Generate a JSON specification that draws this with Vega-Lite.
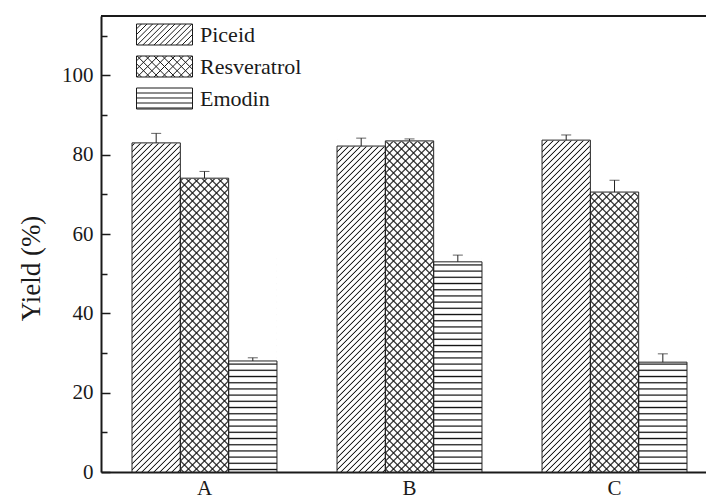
{
"$schema":"https://vega.github.io/schema/vega-lite/v6.json",
"width":605,"height":456,
"autosize":{"type":"none"},
"padding":{"left":101,"top":16,"right":0,"bottom":28},
"background":"white",
"config":{"view":{"stroke":null},"font":"Liberation Serif","legend":{"labelFont":"Liberation Serif"},"axis":{"labelFont":"Liberation Serif","titleFont":"Liberation Serif"}},
"data":{"values":[
{"group":"A","series":"Piceid","value":83.0,"hi":85.4},
{"group":"A","series":"Resveratrol","value":74.1,"hi":75.8},
{"group":"A","series":"Emodin","value":28.0,"hi":28.8},
{"group":"B","series":"Piceid","value":82.2,"hi":84.2},
{"group":"B","series":"Resveratrol","value":83.5,"hi":84.0},
{"group":"B","series":"Emodin","value":53.0,"hi":54.7},
{"group":"C","series":"Piceid","value":83.7,"hi":85.0},
{"group":"C","series":"Resveratrol","value":70.6,"hi":73.6},
{"group":"C","series":"Emodin","value":27.7,"hi":29.8}
]},
"layer":[
{"transform":[{"filter":"datum.series==='Piceid'"}],
"mark":{"type":"bar","stroke":null,"fill":{"gradient":"linear","x1":1,"y1":1,"x2":0.8622,"y2":-0.3012,"stops":[
{"offset":0.002,"color":"#fff"},{"offset":0.004,"color":"#111"},{"offset":0.006,"color":"#fff"},
{"offset":0.012,"color":"#fff"},{"offset":0.014,"color":"#111"},{"offset":0.016,"color":"#fff"},
{"offset":0.022,"color":"#fff"},{"offset":0.024,"color":"#111"},{"offset":0.026,"color":"#fff"},
{"offset":0.032,"color":"#fff"},{"offset":0.034,"color":"#111"},{"offset":0.036,"color":"#fff"},
{"offset":0.042,"color":"#fff"},{"offset":0.044,"color":"#111"},{"offset":0.046,"color":"#fff"},
{"offset":0.052,"color":"#fff"},{"offset":0.054,"color":"#111"},{"offset":0.056,"color":"#fff"},
{"offset":0.062,"color":"#fff"},{"offset":0.064,"color":"#111"},{"offset":0.066,"color":"#fff"},
{"offset":0.072,"color":"#fff"},{"offset":0.074,"color":"#111"},{"offset":0.076,"color":"#fff"},
{"offset":0.082,"color":"#fff"},{"offset":0.084,"color":"#111"},{"offset":0.086,"color":"#fff"},
{"offset":0.092,"color":"#fff"},{"offset":0.094,"color":"#111"},{"offset":0.096,"color":"#fff"},
{"offset":0.102,"color":"#fff"},{"offset":0.104,"color":"#111"},{"offset":0.106,"color":"#fff"},
{"offset":0.112,"color":"#fff"},{"offset":0.114,"color":"#111"},{"offset":0.116,"color":"#fff"},
{"offset":0.122,"color":"#fff"},{"offset":0.124,"color":"#111"},{"offset":0.126,"color":"#fff"},
{"offset":0.132,"color":"#fff"},{"offset":0.134,"color":"#111"},{"offset":0.136,"color":"#fff"},
{"offset":0.142,"color":"#fff"},{"offset":0.144,"color":"#111"},{"offset":0.146,"color":"#fff"},
{"offset":0.152,"color":"#fff"},{"offset":0.154,"color":"#111"},{"offset":0.156,"color":"#fff"},
{"offset":0.162,"color":"#fff"},{"offset":0.164,"color":"#111"},{"offset":0.166,"color":"#fff"},
{"offset":0.172,"color":"#fff"},{"offset":0.174,"color":"#111"},{"offset":0.176,"color":"#fff"},
{"offset":0.182,"color":"#fff"},{"offset":0.184,"color":"#111"},{"offset":0.186,"color":"#fff"},
{"offset":0.192,"color":"#fff"},{"offset":0.194,"color":"#111"},{"offset":0.196,"color":"#fff"},
{"offset":0.202,"color":"#fff"},{"offset":0.204,"color":"#111"},{"offset":0.206,"color":"#fff"},
{"offset":0.212,"color":"#fff"},{"offset":0.214,"color":"#111"},{"offset":0.216,"color":"#fff"},
{"offset":0.222,"color":"#fff"},{"offset":0.224,"color":"#111"},{"offset":0.226,"color":"#fff"},
{"offset":0.232,"color":"#fff"},{"offset":0.234,"color":"#111"},{"offset":0.236,"color":"#fff"},
{"offset":0.242,"color":"#fff"},{"offset":0.244,"color":"#111"},{"offset":0.246,"color":"#fff"},
{"offset":0.252,"color":"#fff"},{"offset":0.254,"color":"#111"},{"offset":0.256,"color":"#fff"},
{"offset":0.262,"color":"#fff"},{"offset":0.264,"color":"#111"},{"offset":0.266,"color":"#fff"},
{"offset":0.272,"color":"#fff"},{"offset":0.274,"color":"#111"},{"offset":0.276,"color":"#fff"},
{"offset":0.282,"color":"#fff"},{"offset":0.284,"color":"#111"},{"offset":0.286,"color":"#fff"},
{"offset":0.292,"color":"#fff"},{"offset":0.294,"color":"#111"},{"offset":0.296,"color":"#fff"},
{"offset":0.302,"color":"#fff"},{"offset":0.304,"color":"#111"},{"offset":0.306,"color":"#fff"},
{"offset":0.312,"color":"#fff"},{"offset":0.314,"color":"#111"},{"offset":0.316,"color":"#fff"},
{"offset":0.322,"color":"#fff"},{"offset":0.324,"color":"#111"},{"offset":0.326,"color":"#fff"},
{"offset":0.332,"color":"#fff"},{"offset":0.334,"color":"#111"},{"offset":0.336,"color":"#fff"},
{"offset":0.342,"color":"#fff"},{"offset":0.344,"color":"#111"},{"offset":0.346,"color":"#fff"},
{"offset":0.352,"color":"#fff"},{"offset":0.354,"color":"#111"},{"offset":0.356,"color":"#fff"},
{"offset":0.362,"color":"#fff"},{"offset":0.364,"color":"#111"},{"offset":0.366,"color":"#fff"},
{"offset":0.372,"color":"#fff"},{"offset":0.374,"color":"#111"},{"offset":0.376,"color":"#fff"},
{"offset":0.382,"color":"#fff"},{"offset":0.384,"color":"#111"},{"offset":0.386,"color":"#fff"},
{"offset":0.392,"color":"#fff"},{"offset":0.394,"color":"#111"},{"offset":0.396,"color":"#fff"},
{"offset":0.402,"color":"#fff"},{"offset":0.404,"color":"#111"},{"offset":0.406,"color":"#fff"},
{"offset":0.412,"color":"#fff"},{"offset":0.414,"color":"#111"},{"offset":0.416,"color":"#fff"},
{"offset":0.422,"color":"#fff"},{"offset":0.424,"color":"#111"},{"offset":0.426,"color":"#fff"},
{"offset":0.432,"color":"#fff"},{"offset":0.434,"color":"#111"},{"offset":0.436,"color":"#fff"},
{"offset":0.442,"color":"#fff"},{"offset":0.444,"color":"#111"},{"offset":0.446,"color":"#fff"},
{"offset":0.452,"color":"#fff"},{"offset":0.454,"color":"#111"},{"offset":0.456,"color":"#fff"},
{"offset":0.462,"color":"#fff"},{"offset":0.464,"color":"#111"},{"offset":0.466,"color":"#fff"},
{"offset":0.472,"color":"#fff"},{"offset":0.474,"color":"#111"},{"offset":0.476,"color":"#fff"},
{"offset":0.482,"color":"#fff"},{"offset":0.484,"color":"#111"},{"offset":0.486,"color":"#fff"},
{"offset":0.492,"color":"#fff"},{"offset":0.494,"color":"#111"},{"offset":0.496,"color":"#fff"},
{"offset":0.502,"color":"#fff"},{"offset":0.504,"color":"#111"},{"offset":0.506,"color":"#fff"},
{"offset":0.512,"color":"#fff"},{"offset":0.514,"color":"#111"},{"offset":0.516,"color":"#fff"},
{"offset":0.522,"color":"#fff"},{"offset":0.524,"color":"#111"},{"offset":0.526,"color":"#fff"},
{"offset":0.532,"color":"#fff"},{"offset":0.534,"color":"#111"},{"offset":0.536,"color":"#fff"},
{"offset":0.542,"color":"#fff"},{"offset":0.544,"color":"#111"},{"offset":0.546,"color":"#fff"},
{"offset":0.552,"color":"#fff"},{"offset":0.554,"color":"#111"},{"offset":0.556,"color":"#fff"},
{"offset":0.562,"color":"#fff"},{"offset":0.564,"color":"#111"},{"offset":0.566,"color":"#fff"},
{"offset":0.572,"color":"#fff"},{"offset":0.574,"color":"#111"},{"offset":0.576,"color":"#fff"},
{"offset":0.582,"color":"#fff"},{"offset":0.584,"color":"#111"},{"offset":0.586,"color":"#fff"},
{"offset":0.592,"color":"#fff"},{"offset":0.594,"color":"#111"},{"offset":0.596,"color":"#fff"},
{"offset":0.602,"color":"#fff"},{"offset":0.604,"color":"#111"},{"offset":0.606,"color":"#fff"},
{"offset":0.612,"color":"#fff"},{"offset":0.614,"color":"#111"},{"offset":0.616,"color":"#fff"},
{"offset":0.622,"color":"#fff"},{"offset":0.624,"color":"#111"},{"offset":0.626,"color":"#fff"},
{"offset":0.632,"color":"#fff"},{"offset":0.634,"color":"#111"},{"offset":0.636,"color":"#fff"}
]}},
"encoding":{
"x":{"field":"group","type":"nominal","scale":{"paddingInner":0.293,"paddingOuter":0.122,"align":0.62},
"axis":{"title":null,"ticks":false,"labelAngle":0,"domainColor":"#1a1a1a","domainWidth":2,"labelFont":"Liberation Serif","labelFontSize":21,"labelColor":"#1a1a1a","labelPadding":5}},
"xOffset":{"field":"series","type":"nominal","scale":{"domain":["Piceid","Resveratrol","Emodin"],"paddingInner":0,"paddingOuter":0}},
"y":{"datum":0,"type":"quantitative","scale":{"domain":[0,115],"nice":false,"zero":true},
"axis":{"title":"Yield (%)","values":[0,10,20,30,40,50,60,70,80,90,100,110],"labelExpr":"datum.value % 20 === 0 && datum.value <= 100 ? datum.label : ''","labelOverlap":false,"grid":false,
"tickSize":{"condition":{"test":"datum.value % 20 === 0","value":-9},"value":-6},"tickColor":"#1a1a1a","tickWidth":1.5,"labelPadding":17,
"domainColor":"#1a1a1a","domainWidth":2,"labelFont":"Liberation Serif","labelFontSize":21,"labelColor":"#1a1a1a",
"titleFont":"Liberation Serif","titleFontSize":27,"titleFontWeight":"normal","titleColor":"#1a1a1a","titlePadding":16,"titleY":252}},
"y2":{"datum":115}
}},
{"transform":[{"filter":"datum.series==='Resveratrol'"}],
"mark":{"type":"bar","stroke":null,"fill":{"gradient":"linear","x1":1,"y1":1,"x2":0.81624,"y2":-0.73492,"stops":[
{"offset":0.002,"color":"#fff"},{"offset":0.004,"color":"#111"},{"offset":0.006,"color":"#fff"},
{"offset":0.012,"color":"#fff"},{"offset":0.014,"color":"#111"},{"offset":0.016,"color":"#fff"},
{"offset":0.022,"color":"#fff"},{"offset":0.024,"color":"#111"},{"offset":0.026,"color":"#fff"},
{"offset":0.032,"color":"#fff"},{"offset":0.034,"color":"#111"},{"offset":0.036,"color":"#fff"},
{"offset":0.042,"color":"#fff"},{"offset":0.044,"color":"#111"},{"offset":0.046,"color":"#fff"},
{"offset":0.052,"color":"#fff"},{"offset":0.054,"color":"#111"},{"offset":0.056,"color":"#fff"},
{"offset":0.062,"color":"#fff"},{"offset":0.064,"color":"#111"},{"offset":0.066,"color":"#fff"},
{"offset":0.072,"color":"#fff"},{"offset":0.074,"color":"#111"},{"offset":0.076,"color":"#fff"},
{"offset":0.082,"color":"#fff"},{"offset":0.084,"color":"#111"},{"offset":0.086,"color":"#fff"},
{"offset":0.092,"color":"#fff"},{"offset":0.094,"color":"#111"},{"offset":0.096,"color":"#fff"},
{"offset":0.102,"color":"#fff"},{"offset":0.104,"color":"#111"},{"offset":0.106,"color":"#fff"},
{"offset":0.112,"color":"#fff"},{"offset":0.114,"color":"#111"},{"offset":0.116,"color":"#fff"},
{"offset":0.122,"color":"#fff"},{"offset":0.124,"color":"#111"},{"offset":0.126,"color":"#fff"},
{"offset":0.132,"color":"#fff"},{"offset":0.134,"color":"#111"},{"offset":0.136,"color":"#fff"},
{"offset":0.142,"color":"#fff"},{"offset":0.144,"color":"#111"},{"offset":0.146,"color":"#fff"},
{"offset":0.152,"color":"#fff"},{"offset":0.154,"color":"#111"},{"offset":0.156,"color":"#fff"},
{"offset":0.162,"color":"#fff"},{"offset":0.164,"color":"#111"},{"offset":0.166,"color":"#fff"},
{"offset":0.172,"color":"#fff"},{"offset":0.174,"color":"#111"},{"offset":0.176,"color":"#fff"},
{"offset":0.182,"color":"#fff"},{"offset":0.184,"color":"#111"},{"offset":0.186,"color":"#fff"},
{"offset":0.192,"color":"#fff"},{"offset":0.194,"color":"#111"},{"offset":0.196,"color":"#fff"},
{"offset":0.202,"color":"#fff"},{"offset":0.204,"color":"#111"},{"offset":0.206,"color":"#fff"},
{"offset":0.212,"color":"#fff"},{"offset":0.214,"color":"#111"},{"offset":0.216,"color":"#fff"},
{"offset":0.222,"color":"#fff"},{"offset":0.224,"color":"#111"},{"offset":0.226,"color":"#fff"},
{"offset":0.232,"color":"#fff"},{"offset":0.234,"color":"#111"},{"offset":0.236,"color":"#fff"},
{"offset":0.242,"color":"#fff"},{"offset":0.244,"color":"#111"},{"offset":0.246,"color":"#fff"},
{"offset":0.252,"color":"#fff"},{"offset":0.254,"color":"#111"},{"offset":0.256,"color":"#fff"},
{"offset":0.262,"color":"#fff"},{"offset":0.264,"color":"#111"},{"offset":0.266,"color":"#fff"},
{"offset":0.272,"color":"#fff"},{"offset":0.274,"color":"#111"},{"offset":0.276,"color":"#fff"},
{"offset":0.282,"color":"#fff"},{"offset":0.284,"color":"#111"},{"offset":0.286,"color":"#fff"},
{"offset":0.292,"color":"#fff"},{"offset":0.294,"color":"#111"},{"offset":0.296,"color":"#fff"},
{"offset":0.302,"color":"#fff"},{"offset":0.304,"color":"#111"},{"offset":0.306,"color":"#fff"},
{"offset":0.312,"color":"#fff"},{"offset":0.314,"color":"#111"},{"offset":0.316,"color":"#fff"},
{"offset":0.322,"color":"#fff"},{"offset":0.324,"color":"#111"},{"offset":0.326,"color":"#fff"},
{"offset":0.332,"color":"#fff"},{"offset":0.334,"color":"#111"},{"offset":0.336,"color":"#fff"},
{"offset":0.342,"color":"#fff"},{"offset":0.344,"color":"#111"},{"offset":0.346,"color":"#fff"},
{"offset":0.352,"color":"#fff"},{"offset":0.354,"color":"#111"},{"offset":0.356,"color":"#fff"},
{"offset":0.362,"color":"#fff"},{"offset":0.364,"color":"#111"},{"offset":0.366,"color":"#fff"},
{"offset":0.372,"color":"#fff"},{"offset":0.374,"color":"#111"},{"offset":0.376,"color":"#fff"},
{"offset":0.382,"color":"#fff"},{"offset":0.384,"color":"#111"},{"offset":0.386,"color":"#fff"},
{"offset":0.392,"color":"#fff"},{"offset":0.394,"color":"#111"},{"offset":0.396,"color":"#fff"},
{"offset":0.402,"color":"#fff"},{"offset":0.404,"color":"#111"},{"offset":0.406,"color":"#fff"},
{"offset":0.412,"color":"#fff"},{"offset":0.414,"color":"#111"},{"offset":0.416,"color":"#fff"},
{"offset":0.422,"color":"#fff"},{"offset":0.424,"color":"#111"},{"offset":0.426,"color":"#fff"},
{"offset":0.432,"color":"#fff"},{"offset":0.434,"color":"#111"},{"offset":0.436,"color":"#fff"},
{"offset":0.442,"color":"#fff"},{"offset":0.444,"color":"#111"},{"offset":0.446,"color":"#fff"},
{"offset":0.452,"color":"#fff"},{"offset":0.454,"color":"#111"},{"offset":0.456,"color":"#fff"},
{"offset":0.462,"color":"#fff"},{"offset":0.464,"color":"#111"},{"offset":0.466,"color":"#fff"},
{"offset":0.472,"color":"#fff"},{"offset":0.474,"color":"#111"},{"offset":0.476,"color":"#fff"}
]}},
"encoding":{
"x":{"field":"group","type":"nominal"},
"xOffset":{"field":"series","type":"nominal","scale":{"domain":["Piceid","Resveratrol","Emodin"],"paddingInner":0,"paddingOuter":0}},
"y":{"datum":0,"type":"quantitative"},
"y2":{"datum":115}
}},
{"transform":[{"filter":"datum.series==='Resveratrol'"}],
"mark":{"type":"bar","stroke":null,"fill":{"gradient":"linear","x1":0,"y1":1,"x2":0.18376,"y2":-0.73492,"stops":[
{"offset":0.002,"color":"rgba(17,17,17,0)"},{"offset":0.004,"color":"#111"},{"offset":0.006,"color":"rgba(17,17,17,0)"},
{"offset":0.012,"color":"rgba(17,17,17,0)"},{"offset":0.014,"color":"#111"},{"offset":0.016,"color":"rgba(17,17,17,0)"},
{"offset":0.022,"color":"rgba(17,17,17,0)"},{"offset":0.024,"color":"#111"},{"offset":0.026,"color":"rgba(17,17,17,0)"},
{"offset":0.032,"color":"rgba(17,17,17,0)"},{"offset":0.034,"color":"#111"},{"offset":0.036,"color":"rgba(17,17,17,0)"},
{"offset":0.042,"color":"rgba(17,17,17,0)"},{"offset":0.044,"color":"#111"},{"offset":0.046,"color":"rgba(17,17,17,0)"},
{"offset":0.052,"color":"rgba(17,17,17,0)"},{"offset":0.054,"color":"#111"},{"offset":0.056,"color":"rgba(17,17,17,0)"},
{"offset":0.062,"color":"rgba(17,17,17,0)"},{"offset":0.064,"color":"#111"},{"offset":0.066,"color":"rgba(17,17,17,0)"},
{"offset":0.072,"color":"rgba(17,17,17,0)"},{"offset":0.074,"color":"#111"},{"offset":0.076,"color":"rgba(17,17,17,0)"},
{"offset":0.082,"color":"rgba(17,17,17,0)"},{"offset":0.084,"color":"#111"},{"offset":0.086,"color":"rgba(17,17,17,0)"},
{"offset":0.092,"color":"rgba(17,17,17,0)"},{"offset":0.094,"color":"#111"},{"offset":0.096,"color":"rgba(17,17,17,0)"},
{"offset":0.102,"color":"rgba(17,17,17,0)"},{"offset":0.104,"color":"#111"},{"offset":0.106,"color":"rgba(17,17,17,0)"},
{"offset":0.112,"color":"rgba(17,17,17,0)"},{"offset":0.114,"color":"#111"},{"offset":0.116,"color":"rgba(17,17,17,0)"},
{"offset":0.122,"color":"rgba(17,17,17,0)"},{"offset":0.124,"color":"#111"},{"offset":0.126,"color":"rgba(17,17,17,0)"},
{"offset":0.132,"color":"rgba(17,17,17,0)"},{"offset":0.134,"color":"#111"},{"offset":0.136,"color":"rgba(17,17,17,0)"},
{"offset":0.142,"color":"rgba(17,17,17,0)"},{"offset":0.144,"color":"#111"},{"offset":0.146,"color":"rgba(17,17,17,0)"},
{"offset":0.152,"color":"rgba(17,17,17,0)"},{"offset":0.154,"color":"#111"},{"offset":0.156,"color":"rgba(17,17,17,0)"},
{"offset":0.162,"color":"rgba(17,17,17,0)"},{"offset":0.164,"color":"#111"},{"offset":0.166,"color":"rgba(17,17,17,0)"},
{"offset":0.172,"color":"rgba(17,17,17,0)"},{"offset":0.174,"color":"#111"},{"offset":0.176,"color":"rgba(17,17,17,0)"},
{"offset":0.182,"color":"rgba(17,17,17,0)"},{"offset":0.184,"color":"#111"},{"offset":0.186,"color":"rgba(17,17,17,0)"},
{"offset":0.192,"color":"rgba(17,17,17,0)"},{"offset":0.194,"color":"#111"},{"offset":0.196,"color":"rgba(17,17,17,0)"},
{"offset":0.202,"color":"rgba(17,17,17,0)"},{"offset":0.204,"color":"#111"},{"offset":0.206,"color":"rgba(17,17,17,0)"},
{"offset":0.212,"color":"rgba(17,17,17,0)"},{"offset":0.214,"color":"#111"},{"offset":0.216,"color":"rgba(17,17,17,0)"},
{"offset":0.222,"color":"rgba(17,17,17,0)"},{"offset":0.224,"color":"#111"},{"offset":0.226,"color":"rgba(17,17,17,0)"},
{"offset":0.232,"color":"rgba(17,17,17,0)"},{"offset":0.234,"color":"#111"},{"offset":0.236,"color":"rgba(17,17,17,0)"},
{"offset":0.242,"color":"rgba(17,17,17,0)"},{"offset":0.244,"color":"#111"},{"offset":0.246,"color":"rgba(17,17,17,0)"},
{"offset":0.252,"color":"rgba(17,17,17,0)"},{"offset":0.254,"color":"#111"},{"offset":0.256,"color":"rgba(17,17,17,0)"},
{"offset":0.262,"color":"rgba(17,17,17,0)"},{"offset":0.264,"color":"#111"},{"offset":0.266,"color":"rgba(17,17,17,0)"},
{"offset":0.272,"color":"rgba(17,17,17,0)"},{"offset":0.274,"color":"#111"},{"offset":0.276,"color":"rgba(17,17,17,0)"},
{"offset":0.282,"color":"rgba(17,17,17,0)"},{"offset":0.284,"color":"#111"},{"offset":0.286,"color":"rgba(17,17,17,0)"},
{"offset":0.292,"color":"rgba(17,17,17,0)"},{"offset":0.294,"color":"#111"},{"offset":0.296,"color":"rgba(17,17,17,0)"},
{"offset":0.302,"color":"rgba(17,17,17,0)"},{"offset":0.304,"color":"#111"},{"offset":0.306,"color":"rgba(17,17,17,0)"},
{"offset":0.312,"color":"rgba(17,17,17,0)"},{"offset":0.314,"color":"#111"},{"offset":0.316,"color":"rgba(17,17,17,0)"},
{"offset":0.322,"color":"rgba(17,17,17,0)"},{"offset":0.324,"color":"#111"},{"offset":0.326,"color":"rgba(17,17,17,0)"},
{"offset":0.332,"color":"rgba(17,17,17,0)"},{"offset":0.334,"color":"#111"},{"offset":0.336,"color":"rgba(17,17,17,0)"},
{"offset":0.342,"color":"rgba(17,17,17,0)"},{"offset":0.344,"color":"#111"},{"offset":0.346,"color":"rgba(17,17,17,0)"},
{"offset":0.352,"color":"rgba(17,17,17,0)"},{"offset":0.354,"color":"#111"},{"offset":0.356,"color":"rgba(17,17,17,0)"},
{"offset":0.362,"color":"rgba(17,17,17,0)"},{"offset":0.364,"color":"#111"},{"offset":0.366,"color":"rgba(17,17,17,0)"},
{"offset":0.372,"color":"rgba(17,17,17,0)"},{"offset":0.374,"color":"#111"},{"offset":0.376,"color":"rgba(17,17,17,0)"},
{"offset":0.382,"color":"rgba(17,17,17,0)"},{"offset":0.384,"color":"#111"},{"offset":0.386,"color":"rgba(17,17,17,0)"},
{"offset":0.392,"color":"rgba(17,17,17,0)"},{"offset":0.394,"color":"#111"},{"offset":0.396,"color":"rgba(17,17,17,0)"},
{"offset":0.402,"color":"rgba(17,17,17,0)"},{"offset":0.404,"color":"#111"},{"offset":0.406,"color":"rgba(17,17,17,0)"},
{"offset":0.412,"color":"rgba(17,17,17,0)"},{"offset":0.414,"color":"#111"},{"offset":0.416,"color":"rgba(17,17,17,0)"},
{"offset":0.422,"color":"rgba(17,17,17,0)"},{"offset":0.424,"color":"#111"},{"offset":0.426,"color":"rgba(17,17,17,0)"},
{"offset":0.432,"color":"rgba(17,17,17,0)"},{"offset":0.434,"color":"#111"},{"offset":0.436,"color":"rgba(17,17,17,0)"},
{"offset":0.442,"color":"rgba(17,17,17,0)"},{"offset":0.444,"color":"#111"},{"offset":0.446,"color":"rgba(17,17,17,0)"},
{"offset":0.452,"color":"rgba(17,17,17,0)"},{"offset":0.454,"color":"#111"},{"offset":0.456,"color":"rgba(17,17,17,0)"},
{"offset":0.462,"color":"rgba(17,17,17,0)"},{"offset":0.464,"color":"#111"},{"offset":0.466,"color":"rgba(17,17,17,0)"},
{"offset":0.472,"color":"rgba(17,17,17,0)"},{"offset":0.474,"color":"#111"},{"offset":0.476,"color":"rgba(17,17,17,0)"}
]}},
"encoding":{
"x":{"field":"group","type":"nominal"},
"xOffset":{"field":"series","type":"nominal","scale":{"domain":["Piceid","Resveratrol","Emodin"],"paddingInner":0,"paddingOuter":0}},
"y":{"datum":0,"type":"quantitative"},
"y2":{"datum":115}
}},
{"transform":[{"filter":"datum.series==='Emodin'"}],
"mark":{"type":"bar","stroke":null,"fill":{"gradient":"linear","x1":0,"y1":1,"x2":0,"y2":-0.35965,"stops":[
{"offset":0.002,"color":"#fff"},{"offset":0.004,"color":"#111"},{"offset":0.006,"color":"#fff"},
{"offset":0.012,"color":"#fff"},{"offset":0.014,"color":"#111"},{"offset":0.016,"color":"#fff"},
{"offset":0.022,"color":"#fff"},{"offset":0.024,"color":"#111"},{"offset":0.026,"color":"#fff"},
{"offset":0.032,"color":"#fff"},{"offset":0.034,"color":"#111"},{"offset":0.036,"color":"#fff"},
{"offset":0.042,"color":"#fff"},{"offset":0.044,"color":"#111"},{"offset":0.046,"color":"#fff"},
{"offset":0.052,"color":"#fff"},{"offset":0.054,"color":"#111"},{"offset":0.056,"color":"#fff"},
{"offset":0.062,"color":"#fff"},{"offset":0.064,"color":"#111"},{"offset":0.066,"color":"#fff"},
{"offset":0.072,"color":"#fff"},{"offset":0.074,"color":"#111"},{"offset":0.076,"color":"#fff"},
{"offset":0.082,"color":"#fff"},{"offset":0.084,"color":"#111"},{"offset":0.086,"color":"#fff"},
{"offset":0.092,"color":"#fff"},{"offset":0.094,"color":"#111"},{"offset":0.096,"color":"#fff"},
{"offset":0.102,"color":"#fff"},{"offset":0.104,"color":"#111"},{"offset":0.106,"color":"#fff"},
{"offset":0.112,"color":"#fff"},{"offset":0.114,"color":"#111"},{"offset":0.116,"color":"#fff"},
{"offset":0.122,"color":"#fff"},{"offset":0.124,"color":"#111"},{"offset":0.126,"color":"#fff"},
{"offset":0.132,"color":"#fff"},{"offset":0.134,"color":"#111"},{"offset":0.136,"color":"#fff"},
{"offset":0.142,"color":"#fff"},{"offset":0.144,"color":"#111"},{"offset":0.146,"color":"#fff"},
{"offset":0.152,"color":"#fff"},{"offset":0.154,"color":"#111"},{"offset":0.156,"color":"#fff"},
{"offset":0.162,"color":"#fff"},{"offset":0.164,"color":"#111"},{"offset":0.166,"color":"#fff"},
{"offset":0.172,"color":"#fff"},{"offset":0.174,"color":"#111"},{"offset":0.176,"color":"#fff"},
{"offset":0.182,"color":"#fff"},{"offset":0.184,"color":"#111"},{"offset":0.186,"color":"#fff"},
{"offset":0.192,"color":"#fff"},{"offset":0.194,"color":"#111"},{"offset":0.196,"color":"#fff"},
{"offset":0.202,"color":"#fff"},{"offset":0.204,"color":"#111"},{"offset":0.206,"color":"#fff"},
{"offset":0.212,"color":"#fff"},{"offset":0.214,"color":"#111"},{"offset":0.216,"color":"#fff"},
{"offset":0.222,"color":"#fff"},{"offset":0.224,"color":"#111"},{"offset":0.226,"color":"#fff"},
{"offset":0.232,"color":"#fff"},{"offset":0.234,"color":"#111"},{"offset":0.236,"color":"#fff"},
{"offset":0.242,"color":"#fff"},{"offset":0.244,"color":"#111"},{"offset":0.246,"color":"#fff"},
{"offset":0.252,"color":"#fff"},{"offset":0.254,"color":"#111"},{"offset":0.256,"color":"#fff"},
{"offset":0.262,"color":"#fff"},{"offset":0.264,"color":"#111"},{"offset":0.266,"color":"#fff"},
{"offset":0.272,"color":"#fff"},{"offset":0.274,"color":"#111"},{"offset":0.276,"color":"#fff"},
{"offset":0.282,"color":"#fff"},{"offset":0.284,"color":"#111"},{"offset":0.286,"color":"#fff"},
{"offset":0.292,"color":"#fff"},{"offset":0.294,"color":"#111"},{"offset":0.296,"color":"#fff"},
{"offset":0.302,"color":"#fff"},{"offset":0.304,"color":"#111"},{"offset":0.306,"color":"#fff"},
{"offset":0.312,"color":"#fff"},{"offset":0.314,"color":"#111"},{"offset":0.316,"color":"#fff"},
{"offset":0.322,"color":"#fff"},{"offset":0.324,"color":"#111"},{"offset":0.326,"color":"#fff"},
{"offset":0.332,"color":"#fff"},{"offset":0.334,"color":"#111"},{"offset":0.336,"color":"#fff"},
{"offset":0.342,"color":"#fff"},{"offset":0.344,"color":"#111"},{"offset":0.346,"color":"#fff"}
]}},
"encoding":{
"x":{"field":"group","type":"nominal"},
"xOffset":{"field":"series","type":"nominal","scale":{"domain":["Piceid","Resveratrol","Emodin"],"paddingInner":0,"paddingOuter":0}},
"y":{"datum":0,"type":"quantitative"},
"y2":{"datum":115}
}},
{"mark":{"type":"bar","stroke":"white","strokeWidth":1},
"encoding":{
"x":{"field":"group","type":"nominal"},
"xOffset":{"field":"series","type":"nominal","scale":{"domain":["Piceid","Resveratrol","Emodin"],"paddingInner":0,"paddingOuter":0}},
"y":{"field":"value","type":"quantitative"},
"y2":{"datum":115},
"fill":{"field":"series","type":"nominal","scale":{"domain":["Piceid","Resveratrol","Emodin"],"range":["white","white","white"]},
"legend":{"title":null,"orient":"none","legendX":35,"legendY":7,"padding":0,"clipHeight":23,
"symbolType":"M-1,-0.375H1V0.375H-1Z","symbolSize":3136,"symbolStrokeColor":"#1a1a1a","symbolStrokeWidth":1,"symbolFillColor":"white",
"labelFont":"Liberation Serif","labelFontSize":22,"labelColor":"#1a1a1a","labelOffset":7,"rowPadding":9,
"encode":{"symbols":{"update":{
"fill":{"value":"white"},"stroke":{"value":"#1a1a1a"},"strokeWidth":{"value":1},"opacity":{"value":1},
"shape":[
{"test":"datum.value === 'Piceid'","value":"M-1,-0.375H1V0.375H-1ZM-1,-0.2L-0.825,-0.375M-1,0L-0.625,-0.375M-1,0.2L-0.425,-0.375M-0.975,0.375L-0.225,-0.375M-0.775,0.375L-0.025,-0.375M-0.575,0.375L0.175,-0.375M-0.375,0.375L0.375,-0.375M-0.175,0.375L0.575,-0.375M0.025,0.375L0.775,-0.375M0.225,0.375L0.975,-0.375M0.425,0.375L1,-0.2M0.625,0.375L1,0M0.825,0.375L1,0.2"},
{"test":"datum.value === 'Resveratrol'","value":"M-1,-0.375H1V0.375H-1ZM-1,-0.2L-0.825,-0.375M-1,0.1L-0.525,-0.375M-0.975,0.375L-0.225,-0.375M-0.675,0.375L0.075,-0.375M-0.375,0.375L0.375,-0.375M-0.075,0.375L0.675,-0.375M0.225,0.375L0.975,-0.375M0.525,0.375L1,-0.1M0.825,0.375L1,0.2M1,-0.2L0.825,-0.375M1,0.1L0.525,-0.375M0.975,0.375L0.225,-0.375M0.675,0.375L-0.075,-0.375M0.375,0.375L-0.375,-0.375M0.075,0.375L-0.675,-0.375M-0.225,0.375L-0.975,-0.375M-0.525,0.375L-1,-0.1M-0.825,0.375L-1,0.2"},
{"value":"M-1,-0.375H1V0.375H-1ZM-1,-0.196H1M-1,-0.018H1M-1,0.161H1M-1,0.339H1"}
]}}}}}
}},
{"mark":{"type":"bar","fill":"white","fillOpacity":0,"stroke":"#222","strokeWidth":1},
"encoding":{
"x":{"field":"group","type":"nominal"},
"xOffset":{"field":"series","type":"nominal","scale":{"domain":["Piceid","Resveratrol","Emodin"],"paddingInner":0,"paddingOuter":0}},
"y":{"field":"value","type":"quantitative"},
"y2":{"datum":0}
}},
{"mark":{"type":"rule","color":"#222","strokeWidth":1},
"encoding":{
"x":{"field":"group","type":"nominal"},
"xOffset":{"field":"series","type":"nominal","scale":{"domain":["Piceid","Resveratrol","Emodin"],"paddingInner":0,"paddingOuter":0}},
"y":{"field":"value","type":"quantitative"},
"y2":{"field":"hi"}
}},
{"mark":{"type":"tick","color":"#222","thickness":1,"size":10},
"encoding":{
"x":{"field":"group","type":"nominal"},
"xOffset":{"field":"series","type":"nominal","scale":{"domain":["Piceid","Resveratrol","Emodin"],"paddingInner":0,"paddingOuter":0}},
"y":{"field":"hi","type":"quantitative"}
}},
{"mark":{"type":"rule","color":"#1a1a1a","strokeWidth":2},
"encoding":{"y":{"datum":115,"type":"quantitative"}}}
]
}
